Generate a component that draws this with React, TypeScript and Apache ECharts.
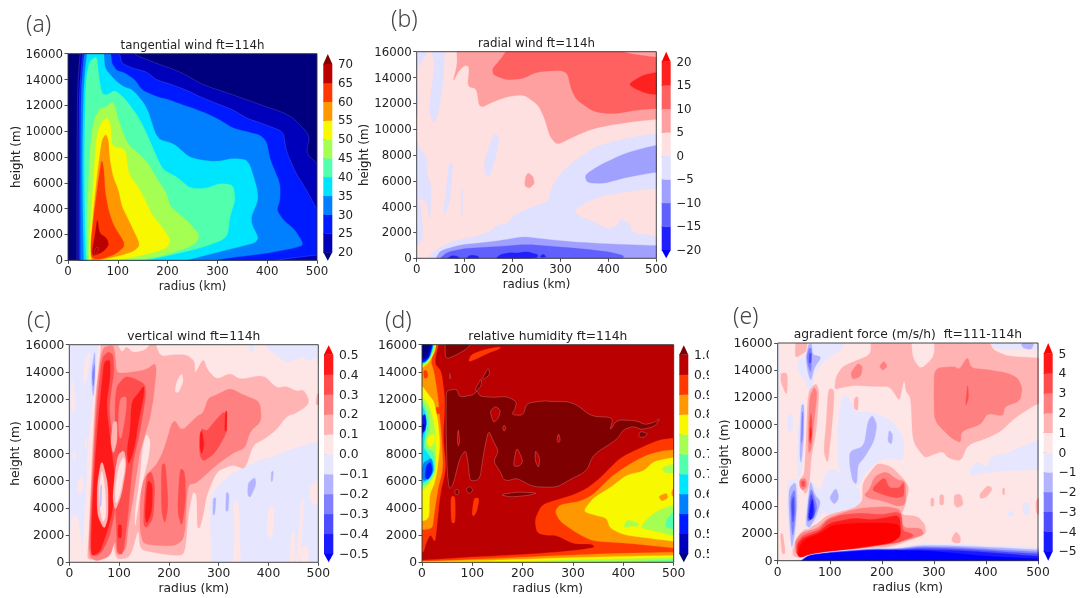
import React, { useEffect, useRef } from "react";
import * as echarts from "echarts";

type Shape = [number, number[], boolean?];

const xTicks = [0, 100, 200, 300, 400, 500];
const yTicks = [0, 2000, 4000, 6000, 8000, 10000, 12000, 14000, 16000];

const jet = ["#00007f", "#0000ba", "#001aff", "#007fff", "#00e5ff", "#52ffad", "#a5ff52", "#f8f800", "#ff9700", "#ff3800", "#ba0000", "#7f0000"];
const bwr8 = ["#0000ff", "#2020ff", "#6060ff", "#a0a0ff", "#e0e0ff", "#ffe0e0", "#ffa0a0", "#ff6060", "#ff2020", "#ff0000"];
const bwr10 = ["#0000ff", "#1a1aff", "#4d4dff", "#8080ff", "#b3b3ff", "#e6e6ff", "#ffe6e6", "#ffb3b3", "#ff8080", "#ff4d4d", "#ff1a1a", "#ff0000"];

const cbarA = ["20", "25", "30", "35", "40", "45", "50", "55", "60", "65", "70"];
const cbarB = ["−20", "−15", "−10", "−5", "0", "5", "10", "15", "20"];
const cbarC = ["−0.5", "−0.4", "−0.3", "−0.2", "−0.1", "0.0", "0.1", "0.2", "0.3", "0.4", "0.5"];
const cbarD = ["0.5", "0.5", "0.6", "0.6", "0.7", "0.7", "0.8", "0.8", "0.9", "0.9", "1.0"];
const cbarE = ["−5", "−4", "−3", "−2", "−1", "0", "1", "2", "3", "4", "5"];

// Contour outlines as [band, radius km, height m, ...]
const shapesA: Shape[] = [
  [1, [18,-500,18,8000,19,13000,22,15000,26,16500,131,16500,131,15950,178,15250,225,14600,272,13570,332,12800,379,12150,446,11250,486,9700,478,8280,500,7500,520,6900,520,-500], true],
  [2, [22,-500,22,8000,23,13000,27,15000,31,16500,104,16500,104,15950,108,15250,131,14860,158,14600,178,13960,201,13700,238,13180,265,12670,298,12150,332,11640,359,11000,399,10470,432,9960,436,9050,439,8410,456,6860,479,5440,500,3900,520,3400,520,440,500,410,446,155,400,-100,400,-500], true],
  [3, [25,-500,25,8000,26,13000,30,15000,34,16500,86,16500,86,15950,88,15250,98,14680,114,14525,135,13960,148,13180,178,12670,205,12410,222,12150,252,11760,278,11380,305,10860,332,10220,359,9960,386,9700,399,9180,406,7770,426,5960,426,4670,419,3900,432,3120,456,2350,474,1190,452,930,399,540,332,230,285,-50,285,-500]],
  [4, [32,-500,30,3000,29,8000,31,13000,35,15000,40,16500,72,16500,72,15950,74,14860,94,13960,111,13440,131,13180,158,11890,175,9830,185,9310,212,9050,242,8020,265,7770,298,7640,332,7900,362,7770,379,5700,382,4670,365,3120,386,1450,332,930,278,410,232,-50,232,-500]],
  [5, [37,-500,34,3000,33,8000,35,13000,37,14200,43,15380,53,15700,58,15700,62,14200,68,12900,78,12800,94,13180,114,12540,141,11120,158,9830,178,8020,191,6990,218,6480,245,5570,278,5570,305,5960,332,5830,336,4670,325,3380,320,1700,265,930,198,335,151,-50,151,-500]],
  [6, [40,-500,38,3000,44,8540,50,10500,56,11250,64,11760,78,11890,89,12330,96,11760,99,11120,111,9830,121,8930,145,8150,161,7500,178,6350,198,5190,205,4150,238,3120,265,1960,255,1190,198,410,131,-50,131,-500]],
  [7, [42,-500,42,540,46,3380,53,7250,58,9830,68,10700,79,11070,86,10470,88,8800,116,8620,121,6730,145,5440,161,4150,171,3380,191,2480,207,1450,195,850,131,230,84,-50,84,-500]],
  [8, [47,-500,47,540,50,3380,59,6730,68,9310,76,9780,81,9310,83,8020,90,6480,101,5440,108,4150,128,2600,145,1190,131,670,91,230,51,-50]],
  [9, [46,280,46,1570,54,4150,63,6730,68,7840,72,6990,74,5440,81,3900,91,2730,116,1190,98,540,71,130,54,80]],
  [10, [59,3300,63,2090,78,1700,82,1190,71,670,51,330,48,670,54,1830]],
  [10, [62,1000,59,540,53,410,53,740,56,1000], true],
];

const shapesB: Shape[] = [
  [6, [83,16500,85,15090,75,13600,88,14530,101,14960,110,14830,106,13290,125,13160,131,11610,160,12130,188,12510,223,12690,254,11870,268,10710,278,9420,293,8770,327,9420,369,10060,424,10450,500,10780,520,10800,520,16500]],
  [7, [195,16500,174,15350,158,14700,160,14190,188,13800,223,13930,250,14450,313,14580,323,13030,334,12250,369,11350,410,11170,459,11480,500,11610,520,11610,520,15600,500,15560,438,15870,396,16500]],
  [8, [520,14400,500,14400,473,14190,449,13670,444,13420,459,13080,480,12770,500,12690,520,12690]],
  [6, [233,6630,243,6320,246,5800,236,5420,225,5600,227,6320]],
  [4, [21,-130,31,335,45,770,70,1290,118,1630,153,2060,167,2580,188,2660,209,3480,236,3870,275,4390,282,5550,306,6840,341,7870,382,8770,438,9290,500,9680,520,9680,520,5500,500,5420,431,5160,369,4640,327,3740,341,3230,369,2840,396,2270,417,2450,428,3100,449,2450,445,2060,500,1680,520,1680,520,-500,21,-500]],
  [3, [38,-130,49,590,90,1030,125,1160,174,1370,223,1680,257,1520,327,1260,403,1110,500,980,520,980,520,-500,38,-500]],
  [2, [45,-130,63,460,97,750,139,850,188,950,229,1080,271,950,341,750,403,490,435,180,424,-130]],
  [1, [61,-100,73,230,87,130,90,-100]],
  [1, [101,-100,111,260,129,180,129,-100]],
  [1, [163,-100,174,280,195,440,209,390,229,520,254,280,250,0]],
  [1, [257,130,264,335,270,130,264,50]],
  [4, [29,16500,59,16500,56,13800,45,11220,36,10400,26,11350,31,13290,38,14830]],
  [4, [-20,16500,31,16500,14,15400,1,14830,3.5,12250,1,10960,-20,10960]],
  [4, [-20,9000,0,9160,7,8380,21,7870,21,6580,31,5550,29,3990,28,2840,23,3990,17,4510,6,4590,-20,4590]],
  [4, [-20,4500,6,4590,14,1930,6,1030,-20,1030]],
  [4, [68,7480,76,7350,70,4510,59,3350,56,3480,61,5290]],
  [4, [94,5420,97,5290,95,3100,92,3230]],
  [4, [163,9680,172,9420,167,8130,153,6320,143,6450,140,7350,150,8640]],
  [3, [520,8770,500,8770,438,8180,382,7220,351,6450,355,5860,389,5780,438,6270,500,6680,520,6680]],
];

const shapesC: Shape[] = [
  [5, [-20,16500,58,16500,53,13790,48,12080,36,8400,33,4730,28,2280,25,810,27,560,21,2770,13,3630,3,3260,1,70,-20,70]],
  [6, [5,13500,10,12900,12,11100,4,11100,3,12300]],
  [6, [18,6120,27,6370,27,5140,16,5140]],
  [6, [8,8080,13,8080,11,7500,7,7500]],
  [6, [32,9140,36,9140,35,8500,32,8500]],
  [6, [35,15260,43,15500,36,13670,28,12940,29,14160]],
  [5, [286,-100,282,4730,299,5590,323,6440,349,6930,376,7420,410,7790,443,8280,500,8890,520,8890,520,-500,286,-500]],
  [6, [329,4240,337,4730,341,3750,344,-100,329,-100,332,2280]],
  [6, [400,3990,411,4240,411,2770,403,1540,396,2520]],
  [6, [446,2280,453,2280,453,-100,443,-100]],
  [6, [467,4730,471,4730,467,1790,460,-100,455,-100]],
  [6, [480,5460,500,6080,520,6080,520,4240,487,4240]],
  [6, [460,1050,480,1300,480,-100,467,-100]],
  [4, [289,4730,295,4730,292,3500,288,3500]],
  [4, [315,5220,321,5000,319,3750,314,3750]],
  [4, [359,5830,373,6270,375,5710,363,4730,358,4970]],
  [4, [406,6690,410,6690,408,5950,405,5950]],
  [4, [51.5,15630,52,14530,51,13060,48,12080,45,13060,45,14280]],
  [3, [50.5,14700,51,13790,48,12810,46,13790]],
  [5, [396,15750,410,15390,436,14650,453,14900,470,15140,480,14770,497,15140,500,14530,520,14530,520,16500,396,16500]],
  [5, [306,16500,322,16500,316,15750]],
  [5, [359,16500,376,16500,370,15500,362,15500]],
  [7, [36,320,40,2280,45,7180,52,12080,62,15260,65,16500,92,16500,105,15390,115,15880,128,15390,155,15630,169,16500,182,15140,209,15260,236,15260,252,14770,252,13790,269,15020,277,14160,296,13430,323,13920,343,13430,390,13790,416,12810,436,12940,456,12570,470,12690,480,12080,480,11590,456,10980,436,10730,416,9750,390,9020,369,8650,353,6810,329,7180,296,6690,276,4970,269,3500,262,2520,257,2520,256,4970,248,5220,239,3500,232,560,209,510,175,690,142,930,139,2520,128,1050,120,370,98,200,92,560,87,1790,78,440,55,200,41,200]],
  [7, [497,12320,500,12450,520,12450,520,11590,500,11590,495,11590]],
  [6, [226,13920,229,13300,219,12450,212,12570,216,13300]],
  [8, [38,440,43,4730,54,12320,65,15750,88,16000,92,15260,95,13920,115,13920,155,14160,172,14650,175,14160,169,12080,162,10610,154,9630,142,8160,134,6200,127,4480,118,2520,114,930,96,440,92,1670,82,440,55,70]],
  [8, [175,7180,189,8160,209,10610,226,9630,256,10730,269,10980,279,12080,296,12320,323,12810,349,12320,383,11830,386,10360,363,9630,353,8400,329,8040,296,7180,256,5830,237,5710,232,1790,212,1180,149,1300,142,2280,142,4240,145,5710,155,6440]],
  [6, [155,9500,163,8890,159,7670,149,6200,142,4970,137,3750,132,2520,132,3750,142,6200,147,8400]],
  [9, [41,440,45,4730,55,11340,65,15020,78,15500,88,15260,90,14040,83,12320,80,11100,92,7910,96,6690,92,3750,80,1790,62,560]],
  [9, [92,12810,112,13670,128,13550,152,13110,154,12320,142,9630,128,7420,123,5710,118,3500,108,560,96,690,95,2280,92,4240,92,7910]],
  [10, [43,560,47,4730,56,9630,65,13060,70,14770,82,14900,82,13550,74,11590,85,8160,92,6200,87,3750,76,2280,62,810,52,560]],
  [10, [122,9630,125,11830,139,12450,150,13010,150,12320,139,10360,132,8650,125,7670,118,7180,116,8400]],
  [10, [98,2770,105,2770,105,1790,98,1790]],
  [9, [155,6440,165,6690,172,5710,169,3260,155,2520,149,2770,150,4240]],
  [10, [157,6080,167,5710,166,3750,155,2770,152,3500]],
  [9, [185,7180,193,7300,199,4240,192,2770,185,3750]],
  [9, [222,6930,232,6690,234,4730,226,2520,217,3750]],
  [9, [261,7910,264,9870,276,9630,289,10240,313,11220,317,9630,303,8650,289,7910,269,7420]],
  [10, [262,9380,266,9750,271,8650,266,7910,262,8400]],
  [10, [313,11100,317,11100,316,9630,312,9630]],
  [7, [65,7670,78,5710,78,3260,70,2400,56,3500,56,5710]],
  [6, [65,6930,72,5460,74,3500,68,2890,62,3750,60,5460]],
  [7, [110,8280,115,7180,105,4970,92,3750,87,4730,92,6690,98,7910]],
  [6, [110,7790,112,7060,102,4970,93,4190,92,5460,100,7180]],
  [7, [88,10360,96,10360,96,8890,88,7910,83,8890]],
  [8, [102,12080,115,12200,114,11100,105,9140,100,9140,98,10610]],
  [4, [63,5700,65,5700,64,4100,62,4100]],
];

const shapesD: Shape[] = [
  [9, [36,16500,24,14650,39,14040,46,11830,42,9140,48,6930,36,4970,30,2770,26,1420,17,2080,8,1420,3,690,-20,690,-20,16500]],
  [9, [520,9100,500,9140,473,9020,433,8400,393,7670,354,6200,327,5410,301,4970,274,4660,238,4240,224,3140,228,2160,248,1980,268,1980,301,1350,337,1350,344,1100,307,880,248,690,168,510,89,370,0,150,-20,150,-20,-500,520,-500]],
  [9, [92,14720,97,15260,122,15630,156,15850,155,15700,132,15390,109,14970]],
  [8, [520,8280,500,8280,473,8160,440,7790,400,6930,373,6200,340,4970,314,4480,274,4240,264,3750,274,3010,307,2160,340,1540,407,1420,500,1050,520,1050]],
  [8, [520,760,340,610,208,390,75,170,0,50,-20,50,-20,-500,520,-500]],
  [8, [32,16500,17,14770,24,14040,32,12080,39,9140,42,6930,32,5460,24,3500,21,2520,6,2400,-20,2400,-20,16500]],
  [9, [3,14100,10,14100,12,13600,4,13500]],
  [9, [26,11400,36,11400,36,10900,26,10900]],
  [7, [520,7720,500,7720,460,7420,440,6690,407,6440,373,5460,340,4730,320,3750,340,3500,367,3260,373,2520,400,2030,446,1790,500,1540,520,1540]],
  [7, [520,510,500,510,407,440,274,320,142,150,-20,50,-20,-500,520,-500]],
  [7, [-20,13000,0,13010,13,12320,24,11830,32,10360,36,8650,30,6690,24,5710,15,4970,14,3060,-20,3060]],
  [8, [470,4850,486,5100,489,4730,476,4480]],
  [8, [496,5220,500,5460,520,5460,520,4730,496,4850]],
  [6, [520,4240,500,4240,466,3750,446,3140,434,2520,460,2350,500,1910,520,1910]],
  [6, [400,2520,407,3140,430,2890,430,2650,413,2650]],
  [6, [476,6930,493,7180,500,7230,520,7230,520,6500,500,6570,483,6570]],
  [6, [520,320,500,320,340,200,208,70,-20,30,-20,-500,520,-500]],
  [5, [520,3750,500,3750,486,3140,483,2650,500,2400,520,2400]],
  [5, [520,150,500,150,340,25,250,-100,520,-500]],
  [6, [-20,12200,0,12200,13,11590,21,10610,26,9630,28,7910,26,6440,17,5950,3,5270,-20,5270]],
  [5, [-20,12000,0,11960,9,11220,14,10360,13,9630,6,8900,10,8300,24,8160,26,6930,19,6200,3,5590,-20,5590]],
  [7, [9,9140,24,9500,26,8890,16,8450,11,8650]],
  [4, [-20,11700,0,11590,7,10980,9,10240,5,9140,3,8400,13,7910,23,7420,24,6690,17,6200,3,5830,-20,5830]],
  [3, [-20,11000,0,10980,6,10610,5,9870,0,9020,-20,9020]],
  [3, [3,7300,7,7420,19,7670,23,6810,17,6320,3,5950,-2,6500]],
  [2, [-5,10360,6,10980,9,10240,6,9630,-5,9400]],
  [2, [8,7060,17,7420,21,6690,13,6080,6,6200]],
  [1, [-5,10170,5,10170,4,9750,-5,9500]],
  [7, [-20,14000,0,14280,13,14650,26,15500,30,16500,-20,16500]],
  [6, [29,16500,24,15500,13,14770,0,14400,-20,14400,-20,16500]],
  [5, [28,16500,21,15390,11,14770,0,14520,-20,14520,-20,16500]],
  [4, [26,16500,19,15390,9,14770,0,14570,-20,14570,-20,16500]],
  [3, [25,16500,17,15260,8,14770,0,14650,-20,14650,-20,16500]],
  [2, [24,16500,15,15070,6,14770,0,14720,-20,14720,-20,16500]],
  [1, [22.5,16500,13,15070,3,14900,-20,14900,-20,16500]],
  [0, [19,16500,9,15260,0,15020,-20,15020,-20,16500]],
  [11, [46,16500,102,16500,92,15750,69,15260,46,14900], true],
  [11, [48,12320,50,12620,69,12760,75,12130,102,12320,110,12620,115,12200,142,12130,168,12200,188,11830,185,11290,178,10850,201,10800,208,11710,244,11880,254,11830,287,11830,307,11590,337,10730,380,10660,373,9630,387,10490,426,10410,443,10120,463,10310,473,10610,463,10000,436,9750,420,10000,400,9750,387,9020,340,7910,327,6690,294,6080,268,5510,221,5540,188,6200,172,6000,162,6080,155,6690,142,7420,152,8160,142,8890,132,9750,122,7910,115,6080,95,5950,92,7180,87,8280,75,7670,62,5710,54,5340,50,6690,48,9630], true],
  [10, [135,11100,145,11470,156,11220,152,10610,142,10240], true],
  [10, [163,10100,167,9900,163,9600,160,9900], true],
  [10, [72,9870,75,8890,72,8500,70,9000], true],
  [10, [271,9500,275,9000,271,8770,268,9000], true],
  [10, [181,7060,188,8530,201,7420,193,7060], true],
  [10, [225,8280,234,7670,232,6930,225,7420], true],
  [11, [120,13550,132,14330,135,13800,122,13430], true],
  [11, [105,12690,118,13550,118,13000,108,12570], true],
  [11, [155,4970,188,5170,231,5100,208,4900,175,4800], true],
  [11, [65,5340,74,5340,72,4970,66,4970], true],
  [11, [87,5340,94,5600,102,5340,94,5000], true],
  [11, [433,9630,448,9500,443,9200,430,9200], true],
  [11, [54,13900,57,13800,56,13400], true],
  [9, [57,4850,66,4850,66,2890,58,2890]],
  [9, [99,3500,103,4730,114,4730,109,3750,103,3380]],
];

const shapesE: Shape[] = [
  [7, [112,13550,125,14280,147,14650,179,15140,179,16500,256,16500,259,14900,275,14040,301,15020,301,16500,403,16500,413,15510,442,15020,500,14900,520,14900,520,11500,500,11590,455,10490,429,9510,403,9020,365,8530,352,7300,327,7550,317,8040,298,7790,282,7550,259,8770,256,11960,246,12450,243,13430,234,11710,224,12320,214,12810,179,12810,147,12890,125,12740,109,12570]],
  [7, [97,12690,109,12570,106,10730,102,9020,96,7060,88,8040,93,10000]],
  [7, [147,11960,155,12080,154,10980,146,11220]],
  [7, [35,16500,61,16500,59,15510,45,15140,33,14900]],
  [7, [6,13790,19,13790,18,12200,13,12450,6,13180]],
  [7, [29,200,29,1180,45,2160,74,2650,96,3380,147,3870,163,4360,163,5710,179,6570,192,7180,218,6930,243,5950,253,5340,243,3870,237,3380,269,3260,283,2650,285,1960,256,1540,211,930,83,320]],
  [7, [333,1540,342,2160,351,1790,351,1300,339,1300]],
  [7, [387,4850,403,5540,413,5340,403,4730,390,4530]],
  [7, [432,5340,436,5340,436,4850,432,4850]],
  [7, [294,4600,300,4600,300,4000,294,4000]],
  [7, [311,4850,319,4850,319,4100,311,4100]],
  [7, [339,4850,352,4900,357,4100,345,3900,339,4100]],
  [7, [496,4600,520,4600,520,3400,496,3400]],
  [7, [5,2000,10,2000,15,500,8,500]],
  [5, [59,16500,125,16500,127,15630,96,14900,70,13790,69,12690,59,12450,54,13180,40,13790,37,14650,54,15140]],
  [5, [115,9750,122,11960,133,12200,144,11470,150,10850,166,10980,198,10730,224,10120,242,9020,242,7300,211,7550,192,7300,166,6320,157,5460,138,5460,115,6810]],
  [5, [95,6690,115,6690,138,5460,157,5340,160,4310,147,3920,102,3500,90,3380,83,5340]],
  [4, [138,8040,166,8400,173,10240,182,10730,191,10000,185,8770,166,7550,154,7060,152,5590,144,5830,138,7060]],
  [4, [214,9630,221,9260,219,8530,211,8770]],
  [4, [99,4610,112,5390,118,4610,109,4120]],
  [5, [19,5830,38,6080,40,4610,38,2650,29,560,22,1910,18,4120]],
  [4, [22,5340,35,5830,37,4120,33,2160,27,810,24,2160,21,4120]],
  [3, [24,4610,33,5340,35,3630,29,1670,26,2650]],
  [2, [26,4240,31,4850,32,3630,29,2650]],
  [5, [37,8530,44,11710,51,11710,51,8280,45,6320,38,6080]],
  [4, [42,7790,45,11470,51,11470,50,9020,45,7060]],
  [3, [45,8530,47,10980,49,10850,48,9020]],
  [4, [59,15880,65,16000,67,15140,80,15020,83,14900,70,14160,64,13180,58,13790,54,14900]],
  [3, [60,15630,65,15630,65,14410,63,13790,58,14410,56,15020]],
  [2, [61,15260,65,15260,64,14530,60,14530]],
  [5, [51,2400,54,4120,61,6080,74,5340,90,5100,90,3630,74,2890,59,2280]],
  [4, [54,2650,59,4610,63,5950,71,4850,83,4360,74,3260,61,2400]],
  [3, [56,2770,59,4360,64,5340,71,4610,76,3870,69,3260]],
  [2, [58,2890,61,4360,65,4970,69,4360,72,3630,69,3140]],
  [1, [59,3140,63,4120,67,4610,69,3630,65,3010]],
  [7, [58,12450,74,13060,80,12450,74,9510,64,7550,61,5590,54,4850,45,5340,42,5950,51,6320,54,8280]],
  [8, [61,11960,70,12810,76,12320,69,10000,65,8280,59,7790,59,10000]],
  [9, [61,10000,64,10980,66,10000,64,8530,60,8770]],
  [10, [62,9510,64,9880,65,9270,62,8770]],
  [8, [42,5950,54,6080,56,5460,48,5150,42,5460]],
  [9, [45,5830,52,5880,52,5460,46,5460]],
  [5, [403,16500,520,16500,520,15500,442,15510,413,15630]],
  [4, [467,16000,493,16000,487,15510,471,15630]],
  [5, [500,8890,468,8400,442,7910,410,7670,403,6810,384,7300,368,6690,371,6200,397,6440,423,6570,500,6690,520,6690,520,8890]],
  [5, [471,4240,484,4240,484,3380,471,3380]],
  [5, [442,3630,454,3630,454,3260,442,3260]],
  [5, [19,10730,29,10730,29,9500,19,9500]],
  [5, [-20,16500,3,16500,4,11000,3,4000,-20,4000]],
  [8, [301,14160,339,14280,349,14040,365,15020,371,14160,403,14040,442,13790,461,13430,470,12690,465,11710,436,11340,433,10610,403,10850,390,10000,352,9510,352,8650,333,9020,301,10240,300,12200]],
  [9, [362,11960,365,13060,367,11960,361,11340]],
  [8, [140,13790,154,14530,163,14280,160,13550,144,13300]],
  [8, [195,14280,204,14700,211,14280,202,13970]],
  [8, [166,4850,176,5220,186,6200,208,6570,230,5950,246,5830,246,4120,230,3990,205,4360,173,4610]],
  [9, [179,5220,205,6200,214,5340,234,5340,242,5830,243,4730,227,4610,202,4850]],
  [8, [35,320,33,1420,45,2030,77,2400,96,3140,134,3630,160,3870,211,3990,237,3750,240,2400,275,2400,282,1910,237,1420,179,1050,83,440]],
  [9, [36,320,36,1300,48,1860,80,2280,96,3010,122,3380,160,3500,198,3380,237,3630,240,2160,256,2030,262,1790,230,1300,179,1050,83,440]],
  [10, [37,320,38,1180,48,1670,80,2110,99,2770,147,3140,179,3010,205,3140,234,3380,237,1790,211,1300,166,1050,102,690]],
  [11, [38,250,42,1050,51,1540,83,2030,106,2650,160,2770,211,2770,234,2650,236,1790,218,1300,173,1050,109,690,58,320]],
  [5, [35,-50,58,440,102,690,179,930,230,980,275,1230,339,1230,403,1130,500,980,520,980,520,-500,35,-500]],
  [4, [42,-50,58,390,102,640,179,880,230,880,275,1130,339,1100,403,1000,500,810,520,810,520,-500,42,-500]],
  [3, [43,-50,58,380,102,620,179,850,230,850,275,1030,339,980,403,860,500,640,520,640,520,-500,43,-500]],
  [2, [44,-50,59,370,102,600,179,820,230,810,275,930,339,880,403,740,500,490,520,490,520,-500,44,-500]],
  [1, [45,-50,60,380,102,580,179,790,230,780,275,810,339,760,403,610,500,320,520,320,520,-500,45,-500]],
  [0, [45,-50,61,390,102,560,179,760,230,740,275,740,339,560,403,320,500,150,520,150,520,-500,45,-500]],
];

// rounds the outline; vertices beyond the plot stay put so that the clip keeps sharp edges
function chaikin(flat: number[], rounds: number): number[][] {
  let pts: number[][] = [];
  for (let i = 0; i < flat.length; i += 2) pts.push([flat[i], flat[i + 1]]);
  const cut = 0.18;
  for (let k = 0; k < rounds; k++) {
    const next: number[][] = [];
    for (let i = 0; i < pts.length; i++) {
      const p = pts[i];
      const a = pts[(i + pts.length - 1) % pts.length];
      const b = pts[(i + 1) % pts.length];
      if (p[0] < 0 || p[0] > 500 || p[1] < 0 || p[1] > 16000) {
        next.push(p);
      } else {
        next.push([p[0] * (1 - cut) + a[0] * cut, p[1] * (1 - cut) + a[1] * cut]);
        next.push([p[0] * (1 - cut) + b[0] * cut, p[1] * (1 - cut) + b[1] * cut]);
      }
    }
    pts = next;
  }
  return pts;
}

type Panel = {
  title: string; letter: string; letterX: number; letterY: number; titleY: number; font: number;
  left: number; right: number; top: number; bottom: number;
  shapes: Shape[]; palette: string[]; base: number; seam: string; yName: boolean;
  barLeft: number; barRight: number; barTop: number; barBottom: number; tipTop: number; tipBottom: number;
  barMin: number; barMax: number; barStep: number; labels: string[]; firstBand: number;
};

const panels: Panel[] = [
  { title: "tangential wind ft=114h", letter: "(a)", letterX: 26, letterY: 23, titleY: 45, font: 11.8, left: 68, right: 317, top: 53.7, bottom: 260.3, shapes: shapesA, palette: jet, base: 0, seam: "rgba(255,255,255,0.22)", yName: true, barLeft: 323.3, barRight: 332.3, barTop: 64, barBottom: 252.3, tipTop: 54, tipBottom: 260.7, barMin: 20, barMax: 70, barStep: 5, labels: cbarA, firstBand: 1 },
  { title: "radial wind ft=114h", letter: "(b)", letterX: 391, letterY: 18, titleY: 43, font: 11.8, left: 416.7, right: 656.3, top: 51.7, bottom: 258.3, shapes: shapesB, palette: bwr8, base: 5, seam: "", yName: true, barLeft: 661.7, barRight: 670.7, barTop: 61.7, barBottom: 250, tipTop: 51.7, tipBottom: 258.3, barMin: -20, barMax: 20, barStep: 5, labels: cbarB, firstBand: 1 },
  { title: "vertical wind ft=114h", letter: "(c)", letterX: 27, letterY: 319, titleY: 335.7, font: 12.3, left: 69.3, right: 318.3, top: 344.7, bottom: 562.3, shapes: shapesC, palette: bwr10, base: 6, seam: "", yName: true, barLeft: 324, barRight: 333.3, barTop: 354.7, barBottom: 553.7, tipTop: 345.3, tipBottom: 562.3, barMin: -0.5, barMax: 0.5, barStep: 0.1, labels: cbarC, firstBand: 1 },
  { title: "relative humidity ft=114h", letter: "(d)", letterX: 385, letterY: 319, titleY: 335.7, font: 12.3, left: 422, right: 673.7, top: 344.7, bottom: 562.3, shapes: shapesD, palette: jet, base: 10, seam: "rgba(205,120,120,0.75)", yName: false, barLeft: 679.3, barRight: 688.3, barTop: 354.7, barBottom: 553.7, tipTop: 345.3, tipBottom: 562.3, barMin: 0.5, barMax: 1, barStep: 0.05, labels: cbarD, firstBand: 1 },
  { title: "agradient force (m/s/h)\u00a0\u00a0ft=111-114h", letter: "(e)", letterX: 733, letterY: 315, titleY: 333.7, font: 12.3, left: 777.7, right: 1038, top: 343, bottom: 560.7, shapes: shapesE, palette: bwr10, base: 6, seam: "", yName: true, barLeft: 1043.7, barRight: 1052.7, barTop: 353.7, barBottom: 551.3, tipTop: 343, tipBottom: 560.7, barMin: -5, barMax: 5, barStep: 1, labels: cbarE, firstBand: 1 },
];

const FONT = "DejaVu Sans";

function buildOption() {
  const grid: any[] = [], xAxis: any[] = [], yAxis: any[] = [], series: any[] = [], title: any[] = [], graphic: any[] = [];
  panels.forEach((p) => {
    const g = grid.length;
    grid.push({ left: p.left, top: p.top, width: p.right - p.left, height: p.bottom - p.top, show: true, backgroundColor: p.palette[p.base], borderWidth: 0 });
    xAxis.push({
      gridIndex: g, type: "value", min: xTicks[0], max: xTicks[xTicks.length - 1], interval: 100,
      name: "radius (km)", nameLocation: "middle", nameGap: 20, nameTextStyle: { fontFamily: FONT, fontSize: p.font, color: "#222" },
      axisLine: { show: false }, splitLine: { show: false },
      axisTick: { show: true, length: 3.5, lineStyle: { color: "#222", width: 0.8 } },
      axisLabel: { fontFamily: FONT, fontSize: p.font, color: "#222", margin: 5, showMinLabel: true, showMaxLabel: true },
    });
    yAxis.push({
      gridIndex: g, type: "value", min: yTicks[0], max: yTicks[yTicks.length - 1], interval: 2000,
      name: p.yName ? "height (m)" : "", nameLocation: "middle", nameGap: 46, nameTextStyle: { fontFamily: FONT, fontSize: p.font, color: "#222" },
      axisLine: { show: false }, splitLine: { show: false },
      axisTick: { show: true, length: 3.5, lineStyle: { color: "#222", width: 0.8 } },
      axisLabel: { fontFamily: FONT, fontSize: p.font, color: "#222", margin: 5, showMinLabel: true, showMaxLabel: true, formatter: (v: number) => String(v) },
    });
    const polys = p.shapes.map((s) => chaikin(s[1], 2));
    series.push({
      type: "custom", xAxisIndex: g, yAxisIndex: g, clip: true, silent: true,
      encode: { x: 0, y: 1 },
      data: polys.map((pts, i) => [pts[0][0], pts[0][1], i]),
      renderItem: (_: any, api: any) => {
        const i = api.value(2) as number;
        const s = p.shapes[i];
        const stroke = s[2] && p.seam ? p.seam : p.palette[s[0]];
        return {
          type: "polygon", z2: i,
          shape: { points: polys[i].map((q) => api.coord(q)) },
          style: { fill: p.palette[s[0]], stroke, lineWidth: s[2] ? 0.6 : 0.3 },
        };
      },
    });
    series.push({
      type: "custom", xAxisIndex: g, yAxisIndex: g, clip: false, silent: true, z: 5,
      encode: { x: 0, y: 1 },
      data: [[0, 0]],
      renderItem: (params: any) => ({
        type: "rect",
        shape: { x: params.coordSys.x, y: params.coordSys.y, width: params.coordSys.width, height: params.coordSys.height },
        style: { fill: "none", stroke: "#333", lineWidth: 0.9 },
      }),
    });
    title.push({
      text: p.title, left: (p.left + p.right) / 2, top: p.titleY - 6.5, textAlign: "center", padding: 0,
      textStyle: { fontFamily: FONT, fontSize: p.font, fontWeight: "normal", color: "#222", lineHeight: 13 },
    });
    graphic.push({
      type: "text", x: p.letterX, y: p.letterY, z: 50, silent: true,
      style: { text: p.letter, fontFamily: "Noto Sans", fontSize: 23, fontWeight: 300, fill: "#444", textVerticalAlign: "middle" },
    });

    // colour bar
    const c = grid.length;
    const n = p.labels.length - 1;
    const unit = (p.barBottom - p.barTop) / (p.barMax - p.barMin);
    const overValue = p.barMax + (p.barTop - p.tipTop) / unit;
    const underValue = p.barMin - (p.tipBottom - p.barBottom) / unit;
    grid.push({ left: p.barLeft, top: p.barTop, width: p.barRight - p.barLeft, height: p.barBottom - p.barTop, show: false });
    xAxis.push({ gridIndex: c, type: "value", min: 0, max: 1, show: false });
    yAxis.push({
      gridIndex: c, type: "value", position: "right", min: p.barMin, max: p.barMax, interval: p.barStep,
      axisLine: { show: false }, splitLine: { show: false },
      axisTick: { show: true, length: 3, lineStyle: { color: "#222", width: 0.6 } },
      axisLabel: {
        fontFamily: FONT, fontSize: p.font, color: "#222", margin: 5.7, showMinLabel: true, showMaxLabel: true,
        formatter: (v: number) => p.labels[Math.round((v - p.barMin) / p.barStep)],
      },
    });
    const barColors = p.palette.slice(0);
    const rows = Array.from({ length: n }, (_, i) => [0, p.barMin + i * p.barStep, i]);
    series.push({
      type: "custom", xAxisIndex: c, yAxisIndex: c, clip: false, silent: true,
      encode: { x: 0, y: 1 },
      data: rows,
      renderItem: (_: any, api: any) => {
        const i = api.value(2) as number;
        const lo = p.barMin + i * p.barStep;
        const hi = lo + p.barStep;
        const a = api.coord([0, hi]);
        const b = api.coord([1, lo]);
        const fill = barColors[i + p.firstBand];
        const children: any[] = [{ type: "rect", shape: { x: a[0], y: a[1], width: b[0] - a[0], height: b[1] - a[1] + 0.3 }, style: { fill } }];
        if (i === 0) children.push({ type: "polygon", shape: { points: [api.coord([0, p.barMin]), api.coord([1, p.barMin]), api.coord([0.5, underValue])] }, style: { fill: barColors[0] } });
        if (i === n - 1) children.push({ type: "polygon", shape: { points: [api.coord([0, p.barMax]), api.coord([1, p.barMax]), api.coord([0.5, overValue])] }, style: { fill: barColors[barColors.length - 1] } });
        return { type: "group", children };
      },
    });
  });
  // the (d) bar labels are cut off by the neighbouring picture in the reference
  graphic.push({ type: "rect", z: 40, silent: true, shape: { x: 709, y: 345, width: 6, height: 218 }, style: { fill: "#fff" } });
  return { animation: false, backgroundColor: "#fff", grid, xAxis, yAxis, series, title, graphic };
}

export default function App() {
  const ref = useRef<HTMLDivElement>(null);
  useEffect(() => {
    const chart = echarts.init(ref.current!, undefined, { renderer: "svg" });
    chart.setOption(buildOption() as any);
    return () => chart.dispose();
  }, []);
  return <div ref={ref} style={{ position: "fixed", left: 0, top: 0, width: 1081, height: 598, filter: "blur(0.35px)" }} />;
}
